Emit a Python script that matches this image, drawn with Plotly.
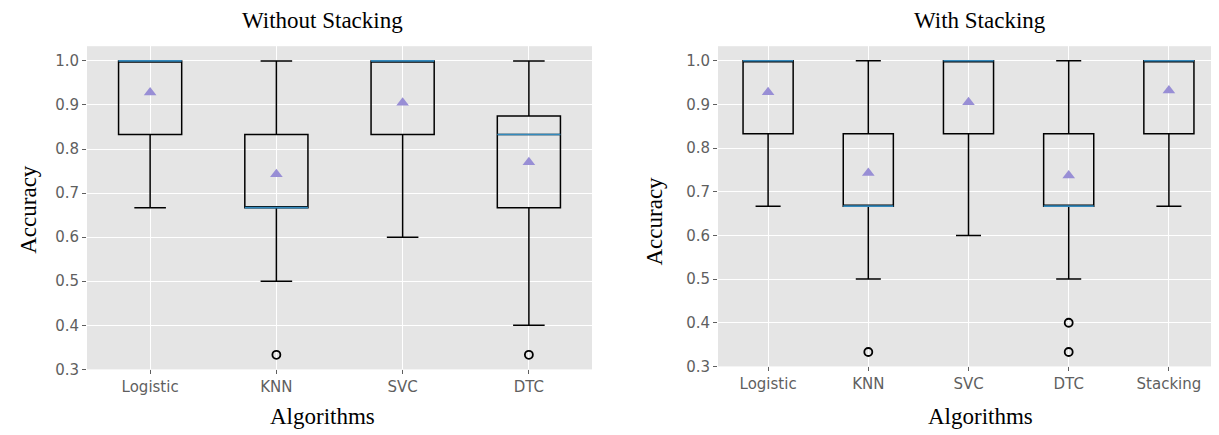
import plotly.graph_objects as go

# ---------------- data ----------------
left_title = "Without Stacking"
right_title = "With Stacking"

left_cats = ["Logistic", "KNN", "SVC", "DTC"]
left_q1 = [0.833, 0.667, 0.833, 0.667]
left_median = [1.0, 0.667, 1.0, 0.833]
left_q3 = [1.0, 0.833, 1.0, 0.875]
left_low = [0.667, 0.5, 0.6, 0.4]
left_high = [1.0, 1.0, 1.0, 1.0]
left_mean = [0.928, 0.743, 0.905, 0.770]
left_outliers = [[], [0.333], [], [0.333]]

right_cats = ["Logistic", "KNN", "SVC", "DTC", "Stacking"]
right_q1 = [0.833, 0.667, 0.833, 0.667, 0.833]
right_median = [1.0, 0.667, 1.0, 0.667, 1.0]
right_q3 = [1.0, 0.833, 1.0, 0.833, 1.0]
right_low = [0.667, 0.5, 0.6, 0.5, 0.667]
right_high = [1.0, 1.0, 1.0, 1.0, 1.0]
right_mean = [0.928, 0.743, 0.905, 0.737, 0.932]
right_outliers = [[], [0.333], [], [0.4, 0.333], []]

y_ticks = [0.3, 0.4, 0.5, 0.6, 0.7, 0.8, 0.9, 1.0]

# ---------------- styling ----------------
W, H = 1219, 435
BG = "#E5E5E5"
MEDIAN_C = "#348ABD"
MEAN_C = "#988ED5"
TICK_C = "#5f5f5f"
BOX_W = 0.5

fig = go.Figure()


def add_panel(cats, q1, med, q3, low, high, mean, outl, xa, ya):
    xref = "x" if xa == "xaxis" else "x2"
    yref = "y" if ya == "yaxis" else "y2"
    for i, c in enumerate(cats):
        pos = i + 1
        fig.add_trace(go.Box(
            x=[pos], q1=[q1[i]], median=[med[i]], q3=[q3[i]],
            lowerfence=[low[i]], upperfence=[high[i]],
            width=BOX_W, whiskerwidth=0.5,
            fillcolor="rgba(0,0,0,0)",
            line=dict(color="black", width=1.5),
            boxpoints=False, showlegend=False, hoverinfo="skip",
            xaxis=xref, yaxis=yref, name=c,
        ))
        # median line
        fig.add_trace(go.Scatter(
            x=[pos - BOX_W / 2, pos + BOX_W / 2], y=[med[i], med[i]],
            mode="lines", line=dict(color=MEDIAN_C, width=1.6),
            showlegend=False, hoverinfo="skip", xaxis=xref, yaxis=yref,
        ))
        # mean marker
        fig.add_trace(go.Scatter(
            x=[pos], y=[mean[i]], mode="markers",
            marker=dict(symbol="triangle-up", size=11, color=MEAN_C),
            showlegend=False, hoverinfo="skip", xaxis=xref, yaxis=yref,
        ))
        if outl[i]:
            fig.add_trace(go.Scatter(
                x=[pos] * len(outl[i]), y=outl[i], mode="markers",
                marker=dict(symbol="circle-open", size=8,
                            color="black", line=dict(width=1.8)),
                showlegend=False, hoverinfo="skip", xaxis=xref, yaxis=yref,
            ))


add_panel(left_cats, left_q1, left_median, left_q3, left_low, left_high,
          left_mean, left_outliers, "xaxis", "yaxis")
add_panel(right_cats, right_q1, right_median, right_q3, right_low, right_high,
          right_mean, right_outliers, "xaxis2", "yaxis2")

ymin, ymax = 0.3, 1.0 + (1.0 - 0.3333) * 0.05

tickfont = dict(family="DejaVu Sans", size=15, color=TICK_C)
common_x = dict(showgrid=True, gridcolor="white", gridwidth=1.2,
                zeroline=False, ticks="outside", ticklen=4, tickcolor=TICK_C,
                tickwidth=1, tickfont=tickfont, showline=False, fixedrange=True)
common_y = dict(range=[ymin, ymax], tickvals=y_ticks, tickformat=".1f",
                showgrid=True, gridcolor="white", gridwidth=1.2,
                zeroline=False, ticks="outside", ticklen=4, tickcolor=TICK_C,
                tickwidth=1, tickfont=tickfont, showline=False, fixedrange=True)

fig.update_layout(
    width=W, height=H,
    margin=dict(l=0, r=0, t=0, b=0),
    paper_bgcolor="white",
    plot_bgcolor=BG,
    showlegend=False,
    xaxis=dict(domain=[79 / W, 584 / W], range=[0.5, len(left_cats) + 0.5],
               tickvals=list(range(1, len(left_cats) + 1)),
               ticktext=left_cats, anchor="y", **common_x),
    yaxis=dict(domain=[1 - 369 / H, 1 - 39 / H], anchor="x", **common_y),
    xaxis2=dict(domain=[710 / W, 1211 / W], range=[0.5, len(right_cats) + 0.5],
                tickvals=list(range(1, len(right_cats) + 1)),
                ticktext=right_cats, anchor="y2", **common_x),
    yaxis2=dict(domain=[1 - 366 / H, 1 - 39 / H], anchor="x2", **common_y),
)

serif = dict(family="Liberation Serif, Times New Roman, serif", size=23, color="black")


def ann(text, px, py, angle=0):
    fig.add_annotation(text=text, xref="paper", yref="paper",
                       x=px / W, y=1 - py / H, xanchor="center", yanchor="middle",
                       showarrow=False, font=serif, textangle=angle)


ann(left_title, 314, 13)
ann(right_title, 972, 13)
ann("Algorithms", 314, 417)
ann("Algorithms", 972, 417)
ann("Accuracy", 21, 206, -90)
ann("Accuracy", 646, 218, -90)

fig.write_html("out.html")
